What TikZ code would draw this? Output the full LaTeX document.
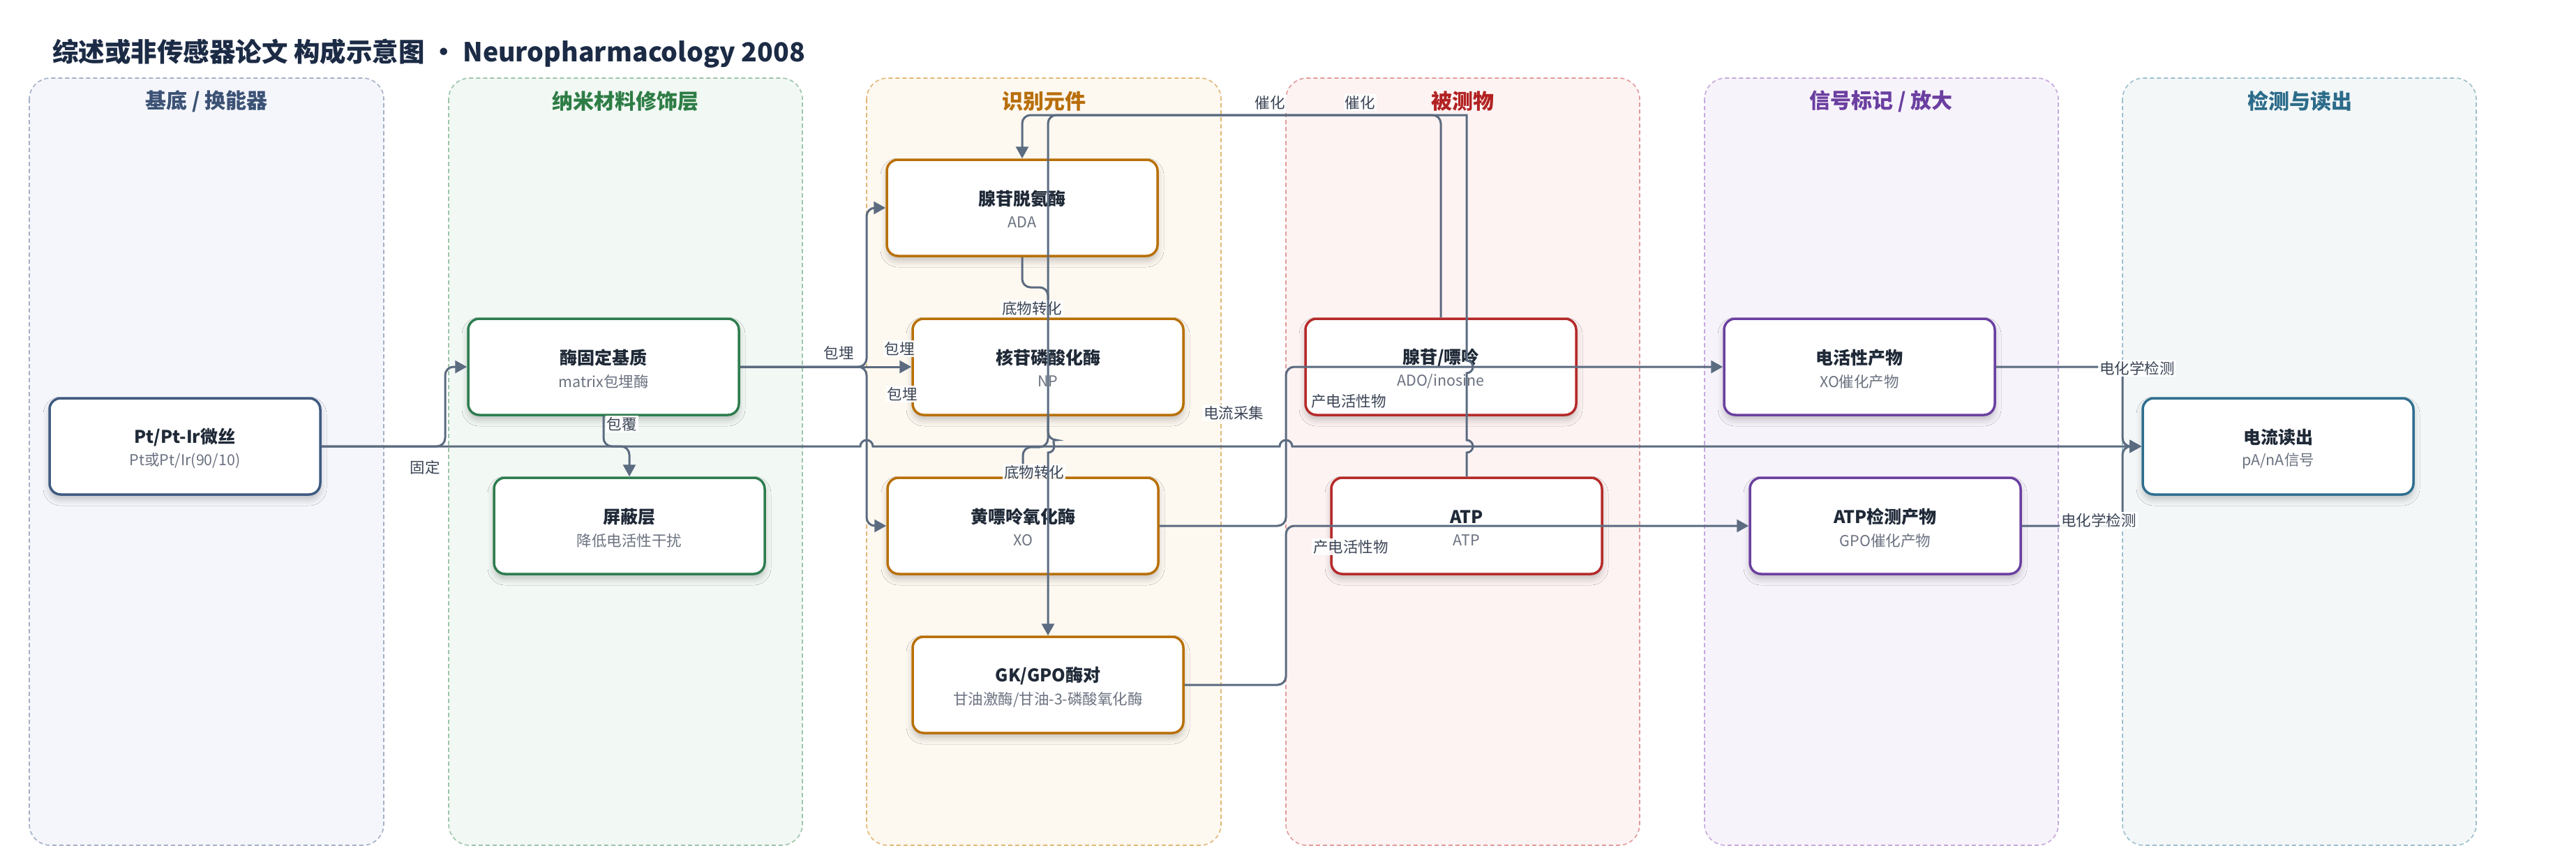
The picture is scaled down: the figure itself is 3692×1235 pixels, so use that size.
\documentclass[tikz,border=0pt]{standalone}
\usepackage{fontspec}
\setmainfont{Noto Sans CJK SC}
\usetikzlibrary{arrows.meta,shadows.blur}
\definecolor{ec}{HTML}{5B6B80}
\definecolor{tc}{HTML}{1F2937}
\definecolor{sc}{HTML}{6B7280}
\definecolor{lc}{HTML}{3B4556}
\definecolor{hc}{HTML}{1C2B45}
% lane colours
\definecolor{lAb}{HTML}{A3B0C6}\definecolor{lAf}{HTML}{F5F6FB}\definecolor{lAt}{HTML}{3C5275}\definecolor{nA}{HTML}{3F5A80}
\definecolor{lBb}{HTML}{9CC5AA}\definecolor{lBf}{HTML}{F2F8F4}\definecolor{lBt}{HTML}{2E7D46}\definecolor{nB}{HTML}{2E7D4F}
\definecolor{lCb}{HTML}{E2B777}\definecolor{lCf}{HTML}{FDF8F0}\definecolor{lCt}{HTML}{B86E0A}\definecolor{nC}{HTML}{B87008}
\definecolor{lDb}{HTML}{E39A9A}\definecolor{lDf}{HTML}{FDF3F3}\definecolor{lDt}{HTML}{B22222}\definecolor{nD}{HTML}{B52A2A}
\definecolor{lEb}{HTML}{C5A8DD}\definecolor{lEf}{HTML}{F7F3FB}\definecolor{lEt}{HTML}{6B3FA0}\definecolor{nE}{HTML}{6B40A0}
\definecolor{lFb}{HTML}{9DBFCC}\definecolor{lFf}{HTML}{F3F7F8}\definecolor{lFt}{HTML}{2C6C8A}\definecolor{nF}{HTML}{2F6F8F}
\tikzset{
  lanebox/.style 2 args={draw=#1, fill=#2, dash pattern=on 6pt off 4pt, line width=1.6pt, rounded corners=30pt},
  lanetitle/.style={font=\fontsize{30pt}{34pt}\selectfont\bfseries, text=#1},
  box/.style={draw=#1, line width=3.5pt, fill=white, rounded corners=16pt,
    minimum width=388pt, minimum height=138pt, inner sep=0pt,
    blur shadow={shadow xshift=0pt, shadow yshift=-7pt, shadow blur radius=9pt, shadow opacity=22}},
  ttl/.style={font=\fontsize{25pt}{29pt}\selectfont\bfseries, text=tc, inner sep=0pt},
  subt/.style={font=\fontsize{21.5pt}{25pt}\selectfont, text=sc, inner sep=0pt},
  elab/.style={font=\fontsize{21.5pt}{25pt}\selectfont, text=lc, fill=white, fill opacity=0.9, text opacity=1, inner sep=2pt},
  edge/.style={draw=ec, line width=3pt, rounded corners=12pt, -{Triangle[length=17pt,width=18pt]}},
}
\newcommand\mybox[7]{%
  \node[box=#4] (#1) at (#2,#3) {};
  \node[ttl] (#1t) at ([yshift=13pt]#1.center) {#5};
  \node[subt] (#1s) at ([yshift=-21pt]#1.center) {#6};
}
\begin{document}
\begin{tikzpicture}[x=1pt,y=-1pt]
\useasboundingbox (0,0) rectangle (3692,1235);
\fill[white] (0,0) rectangle (3692,1235);
% title
\node[anchor=west, font=\fontsize{37.5pt}{44pt}\selectfont\bfseries, text=hc, inner sep=0pt] (title) at (75,77) {综述或非传感器论文 构成示意图 • Neuropharmacology 2008};
% lanes
\draw[lanebox={lAb}{lAf}] (42,112) rectangle (550,1212);
\draw[lanebox={lBb}{lBf}] (643,112) rectangle (1150,1212);
\draw[lanebox={lCb}{lCf}] (1242,112) rectangle (1750,1212);
\draw[lanebox={lDb}{lDf}] (1843,112) rectangle (2350,1212);
\draw[lanebox={lEb}{lEf}] (2443,112) rectangle (2950,1212);
\draw[lanebox={lFb}{lFf}] (3042,112) rectangle (3549,1212);
\node[lanetitle=lAt] (lt1) at (296,145) {基底 / 换能器};
\node[lanetitle=lBt] (lt2) at (896,145) {纳米材料修饰层};
\node[lanetitle=lCt] (lt3) at (1496,145) {识别元件};
\node[lanetitle=lDt] (lt4) at (2096,145) {被测物};
\node[lanetitle=lEt] (lt5) at (2696,145) {信号标记 / 放大};
\node[lanetitle=lFt] (lt6) at (3296,145) {检测与读出};
% nodes
\mybox{pt}{265}{640}{nA}{Pt/Pt-Ir微丝}{Pt或Pt/Ir(90/10)}{}
\mybox{ms}{865}{526}{nB}{酶固定基质}{matrix包埋酶}{}
\mybox{sh}{902}{754}{nB}{屏蔽层}{降低电活性干扰}{}
\mybox{ada}{1465}{298}{nC}{腺苷脱氨酶}{ADA}{}
\mybox{np}{1502}{526}{nC}{核苷磷酸化酶}{NP}{}
\mybox{xo}{1466}{754}{nC}{黄嘌呤氧化酶}{XO}{}
\mybox{gk}{1502}{982}{nC}{GK/GPO酶对}{甘油激酶/甘油-3-磷酸氧化酶}{}
\mybox{ado}{2065}{526}{nD}{腺苷/嘌呤}{ADO/inosine}{}
\mybox{atp}{2102}{754}{nD}{ATP}{ATP}{}
\mybox{ep}{2665}{526}{nE}{电活性产物}{XO催化产物}{}
\mybox{ap}{2702}{754}{nE}{ATP检测产物}{GPO催化产物}{}
\mybox{rd}{3265}{640}{nF}{电流读出}{pA/nA信号}{}
% edges
\draw[edge] (pt.east) -- (638,640) -- (638,526) -- (ms.west);
\node[elab, fill opacity=0] (l1) at (609,670) {固定};
\draw[edge] (ms.south) -- (865,640) -- (902,640) -- (sh.north);
\node[elab] (l2) at (891,608) {包覆};
\draw[edge] (ms.east) -- (1242,526) -- (1242,298) -- (ada.west);
\draw[edge] (ms.east) -- (np.west);
\draw[edge] (ms.east) -- (1242,526) -- (1242,754) -- (xo.west);
\node[elab] (l3) at (1202,506) {包埋};
\node[elab] (l4) at (1289,500) {包埋};
\node[elab] (l5) at (1293,565) {包埋};
\draw[edge] (ada.south) -- (1465,412) -- (1502,412) -- (np.north);
\node[elab] (l6) at (1479,442) {底物转化};
\draw[edge] (np.south) -- (1502,641) -- (1466,641) -- (xo.north);
\node[elab] (l7) at (1482,677) {底物转化};
\draw[edge] (xo.east) -- (1843,754) -- (1843,526) -- (ep.west);
\node[elab] (l8) at (1933,575) {产电活性物};
\draw[edge] (gk.east) -- (1843,982) -- (1843,754) -- (ap.west);
\node[elab] (l9) at (1936,784) {产电活性物};
\draw[edge, sharp corners] (pt.east) -- (1233,640) arc[start angle=180,end angle=0,radius=9pt]
  -- (1834,640) arc[start angle=180,end angle=0,radius=9pt] -- (rd.west);
\node[elab] (l10) at (1768,592) {电流采集};
\draw[edge] (ado.north) -- (2065,165) -- (1465,165) -- (ada.north);
\node[elab] (l11) at (1820,147) {催化};
\draw[edge, sharp corners] (atp.north) -- (2102,649) arc[start angle=-90,end angle=90,radius=9pt]
  -- (2102,535) arc[start angle=-90,end angle=90,radius=9pt]
  -- (2102,165) [rounded corners=12pt] -- (1502,165) -- (1502,631) [sharp corners]
  arc[start angle=90,end angle=-90,radius=9pt] -- (gk.north);
\node[elab] (l12) at (1949,147) {催化};
\draw[edge] (ep.east) -- (3042,526) -- (3042,640) -- (rd.west);
\node[elab] (l13) at (3063,528) {电化学检测};
\draw[edge] (ap.east) -- (3042,754) -- (3042,640) -- (rd.west);
\node[elab] (l14) at (3008,746) {电化学检测};
\end{tikzpicture}
\end{document}
